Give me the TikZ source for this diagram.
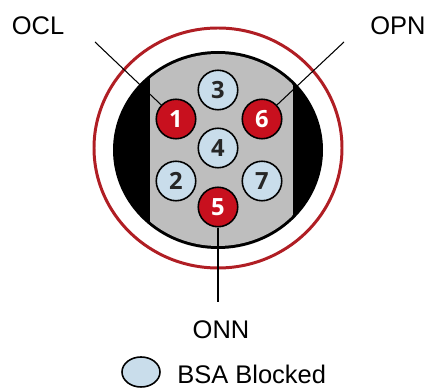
\documentclass[tikz,border=0pt]{standalone}
\usepackage{fontspec}
\setmainfont{Liberation Sans}
\newfontfamily\digitfont{Open Sans}
\usetikzlibrary{shapes.geometric}
\definecolor{ringred}{HTML}{B01E24}
\definecolor{pinred}{HTML}{C8101E}
\definecolor{pinblue}{HTML}{C9DDEB}
\definecolor{bodygrey}{HTML}{BEBEBE}
\tikzset{
  contact/.style={circle, draw=black, line width=0.9pt, minimum size=0.79cm,
    inner sep=0pt, font=\digitfont\bfseries\fontsize{13.5}{13.5}\selectfont},
  open/.style={contact, fill=pinred, text=white},
  blocked/.style={contact, fill=pinblue, text=black!85},
  lead/.style={black, line width=0.6pt},
  lbl/.style={font=\fontsize{14.5}{17}\selectfont, inner sep=0pt}
}

\begin{document}
\begin{tikzpicture}[x=0.02cm,y=-0.02cm]
\useasboundingbox (0,0) rectangle (430,391);
% outer ring and connector body
\draw[ringred, line width=1.7pt] (218,148) ellipse [x radius=124, y radius=120];
\fill[black] (218,150) ellipse [x radius=105, y radius=99];
\begin{scope}
  \clip (218,150) ellipse [x radius=102, y radius=96];
  \fill[bodygrey] (150,40) rectangle (293,260);
\end{scope}
% contacts
\foreach \n/\x/\y/\kind in {1/176/119/open, 6/262/119/open, 5/218/207/open,
                            3/218/90/blocked, 4/218/148/blocked,
                            2/176/181/blocked, 7/262/181/blocked}{
	\node[\kind] (p\n) at (\x,\y) {\n};
	}
% leader lines
\coordinate (oclend) at (95,42);
\coordinate (opnend) at (344,42);
\coordinate (onnend) at (218,302);
\draw[lead] (oclend) -- (p1);
\draw[lead] (opnend) -- (p6);
\draw[lead] (p5) -- (onnend);
\node[lbl] (ocl) at (38,26) {OCL};
\node[lbl] (opn) at (398,26) {OPN};
\node[lbl] (onn) at (221,330) {ONN};
% key
\node[ellipse, draw=black, line width=0.9pt, fill=pinblue, minimum width=0.76cm,
  minimum height=0.6cm, inner sep=0pt] (key) at (141,372) {};
\node[lbl, anchor=west] (keytext) at (177,374) {BSA Blocked};
\end{tikzpicture}
\end{document}
